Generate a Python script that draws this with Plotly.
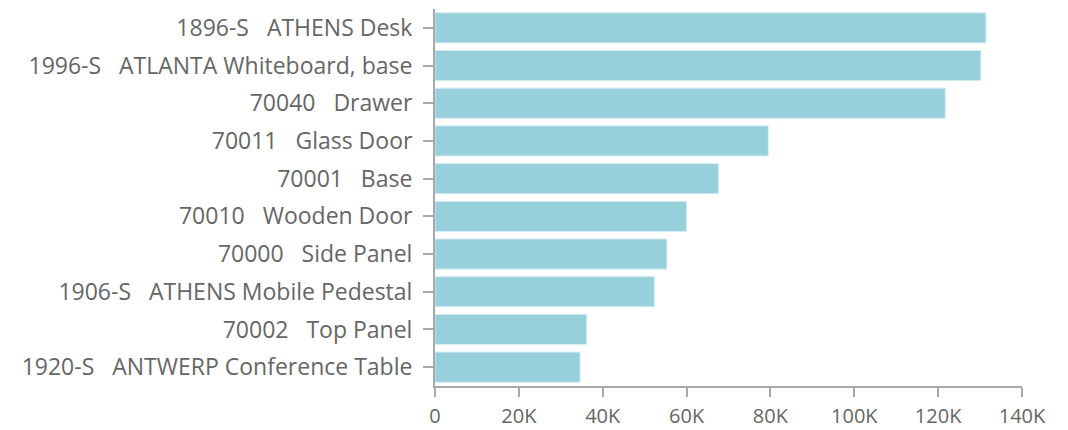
import plotly.graph_objects as go

SP = "\u00a0\u00a0\u00a0"
codes = ["1896-S", "1996-S", "70040", "70011", "70001", "70010", "70000", "1906-S", "70002", "1920-S"]
names = ["ATHENS Desk", "ATLANTA Whiteboard, base", "Drawer", "Glass Door", "Base",
         "Wooden Door", "Side Panel", "ATHENS Mobile Pedestal", "Top Panel", "ANTWERP Conference Table"]
values = [131400, 130200, 121700, 79500, 67600, 60000, 55300, 52300, 36200, 34600]
tick_vals = [0, 20000, 40000, 60000, 80000, 100000, 120000, 140000]
tick_text = ["0", "20K", "40K", "60K", "80K", "100K", "120K", "140K"]

labels = [c + SP + n for c, n in zip(codes, names)]

fig = go.Figure(go.Bar(
    x=values, y=labels, orientation="h",
    marker=dict(color="#97CFDB", line=dict(color="#D6EEF3", width=1)),
))

# page body has an 8px margin, so the figure is offset by 8px
fig.update_layout(
    width=1060, height=422,
    margin=dict(l=427, r=46, t=1, b=44),
    paper_bgcolor="white", plot_bgcolor="white",
    bargap=0.2,
    showlegend=False,
    font=dict(family="Open Sans, sans-serif", color="#666666"),
)
fig.update_xaxes(
    range=[0, 140000], tickvals=tick_vals, ticktext=tick_text,
    showgrid=False, zeroline=False, automargin=False,
    showline=True, linecolor="#A5A9AD", linewidth=2,
    ticks="outside", ticklen=9, tickcolor="#A5A9AD", tickwidth=2,
    tickfont=dict(size=20, color="#666666"),
    ticklabelstandoff=2,
)
fig.update_yaxes(
    autorange="reversed", showgrid=False, zeroline=False, automargin=False,
    showline=True, linecolor="#A5A9AD", linewidth=2,
    ticks="outside", ticklen=10, tickcolor="#A5A9AD", tickwidth=2,
    tickfont=dict(size=23, color="#666666"),
    ticklabelstandoff=6,
)

fig.write_html("out.html")
